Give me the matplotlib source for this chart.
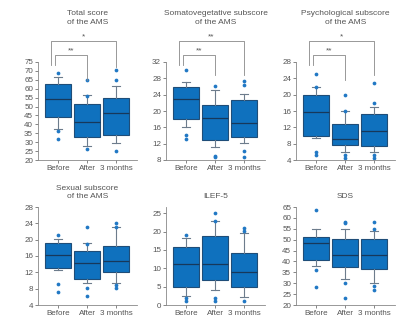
import matplotlib
matplotlib.use("Agg")
import numpy as np
from matplotlib import pyplot as plt

plt.rcParams['font.family'] = ['Liberation Sans', 'DejaVu Sans']

groups = ["Before", "After", "3 months"]

# (q1, median, q3), (whisker low, whisker high), outliers for each group
total_q = [(44.3, 54.4, 62.6), (33.0, 41.1, 51.2), (34.0, 46.2, 55.0)]
total_whis = [(37.4, 66.6), (28.0, 56.5), (29.7, 61.5)]
total_fliers = [[69, 36, 32], [65, 56, 26], [65, 70.5, 25.2]]

somato_q = [(18.1, 23.0, 25.9), (12.9, 18.3, 21.4), (13.6, 17.1, 22.8)]
somato_whis = [(16.1, 27.1), (11.1, 25.2), (12.1, 24.1)]
somato_fliers = [[30, 14.2, 13.1], [26.2, 9.1, 8.7], [26.3, 27.4, 10.1, 8.8]]

psych_q = [(9.9, 15.8, 19.9), (7.7, 9.1, 12.8), (7.5, 11.1, 15.2)]
psych_whis = [(9.4, 22.0), (6.0, 16.1), (6.0, 16.9)]
psych_fliers = [[25, 22, 6.0, 5.2], [19.9, 16, 5.2, 4.6], [17.9, 22.8, 5.3, 4.6]]

sexual_q = [(13.1, 16.2, 19.1), (10.3, 14.2, 17.3), (12.1, 14.7, 18.4)]
sexual_whis = [(12.6, 20.1), (9.4, 19.2), (9.3, 23.1)]
sexual_fliers = [[21.1, 9.1, 7.3], [23.1, 19, 8.2, 6.2], [24.2, 23, 9, 8.2]]

ilef_q = [(4.9, 11.1, 15.9), (6.8, 11.1, 18.7), (5.0, 9.1, 14.1)]
ilef_whis = [(2.5, 18.3), (4.0, 22.8), (2.2, 19.5)]
ilef_fliers = [[19.1, 2.0, 1.0], [23.0, 25.1, 2.0, 1.1], [20.1, 20.9, 1.1]]

sds_q = [(40.8, 48.4, 51.1), (37.6, 43.0, 50.4), (36.5, 43.0, 50.4)]
sds_whis = [(38.0, 55.0), (31.9, 55.0), (29.9, 53.9)]
sds_fliers = [[63.8, 36.2, 28.1], [58.0, 57.5, 30.0, 23.4], [55.0, 58.0, 28.8, 26.9]]

titles = ["Total score\nof the AMS", "Somatovegetative subscore\nof the AMS",
          "Psychological subscore\nof the AMS", "Sexual subscore\nof the AMS",
          "ILEF-5", "SDS"]
yticks = [np.arange(20, 76, 5), np.arange(8, 33, 4), np.arange(4, 29, 4),
          np.arange(4, 29, 4), np.arange(0, 26, 5), np.arange(20, 66, 5)]
ylims = [(20, 75), (8, 32), (4, 28), (4, 28), (0, 26.7), (20, 65)]

# significance brackets for the top row: (inner label, outer label, leg ends)
sig = [("**", "*", 0.816, 0.949), ("**", "**", 0.867, 0.867), ("**", "*", 0.816, 0.867)]

panels = [(total_q, total_whis, total_fliers), (somato_q, somato_whis, somato_fliers),
          (psych_q, psych_whis, psych_fliers), (sexual_q, sexual_whis, sexual_fliers),
          (ilef_q, ilef_whis, ilef_fliers), (sds_q, sds_whis, sds_fliers)]

fig = plt.figure(figsize=(4.01, 3.29), dpi=100)
lefts = [38 / 401, 166 / 401, 296 / 401]
bottoms = [1 - 160 / 329, 1 - 305 / 329]
w, h = 99 / 401, 98 / 329

fill = "#0f71be"
edge = "#1f4d78"
grey = "#555555"

for k, (qs, whis, fl) in enumerate(panels):
    ax = fig.add_axes([lefts[k % 3], bottoms[k // 3], w, h])
    stats = []
    for (q1, med, q3), (lo, hi), f in zip(qs, whis, fl):
        stats.append(dict(q1=q1, med=med, q3=q3, whislo=lo, whishi=hi, fliers=f))
    ax.bxp(stats, positions=[1, 2, 3], widths=0.88, patch_artist=True,
           boxprops=dict(facecolor=fill, edgecolor=edge, linewidth=0.8),
           medianprops=dict(color="#17385a", linewidth=0.9),
           whiskerprops=dict(color="#6d7c8c", linewidth=0.8),
           capprops=dict(color="#6d7c8c", linewidth=0.8),
           capwidths=0.28,
           flierprops=dict(marker="o", markersize=2.7, markerfacecolor="#2178c4",
                           markeredgecolor="none"))
    ax.set_xlim(0.31, 3.72)
    ax.set_ylim(*ylims[k])
    ax.set_yticks(yticks[k])
    ax.set_xticks([1, 2, 3])
    ax.set_xticklabels(groups)
    ax.tick_params(labelsize=5.8, colors=grey, length=2, width=0.5, pad=1.5)
    for s in ["top", "right"]:
        ax.spines[s].set_visible(False)
    for s in ["left", "bottom"]:
        ax.spines[s].set_color("#888888")
        ax.spines[s].set_linewidth(0.6)

    if k < 3:
        ax.text(0.5, 1.37, titles[k], transform=ax.transAxes, ha="center", va="bottom",
                fontsize=6, color=grey, linespacing=1.35)
        inner, outer, leg_after, leg_3m = sig[k]
        tr = ax.get_xaxis_transform()
        ax.plot([0.88, 0.88, 2, 2], [0.969, 1.071, 1.071, leg_after], color="#888888",
                lw=0.6, transform=tr, clip_on=False)
        ax.plot([0.77, 0.77, 3, 3], [0.969, 1.214, 1.214, leg_3m], color="#888888",
                lw=0.6, transform=tr, clip_on=False)
        ax.text(1.44, 1.075, inner, transform=tr, ha="center", va="bottom",
                fontsize=6, color=grey)
        ax.text(1.88, 1.218, outer, transform=tr, ha="center", va="bottom",
                fontsize=6, color=grey)
    else:
        ax.text(0.5, 1.07, titles[k], transform=ax.transAxes, ha="center", va="bottom",
                fontsize=6, color=grey, linespacing=1.2)

fig.savefig("out.png", dpi=100)
